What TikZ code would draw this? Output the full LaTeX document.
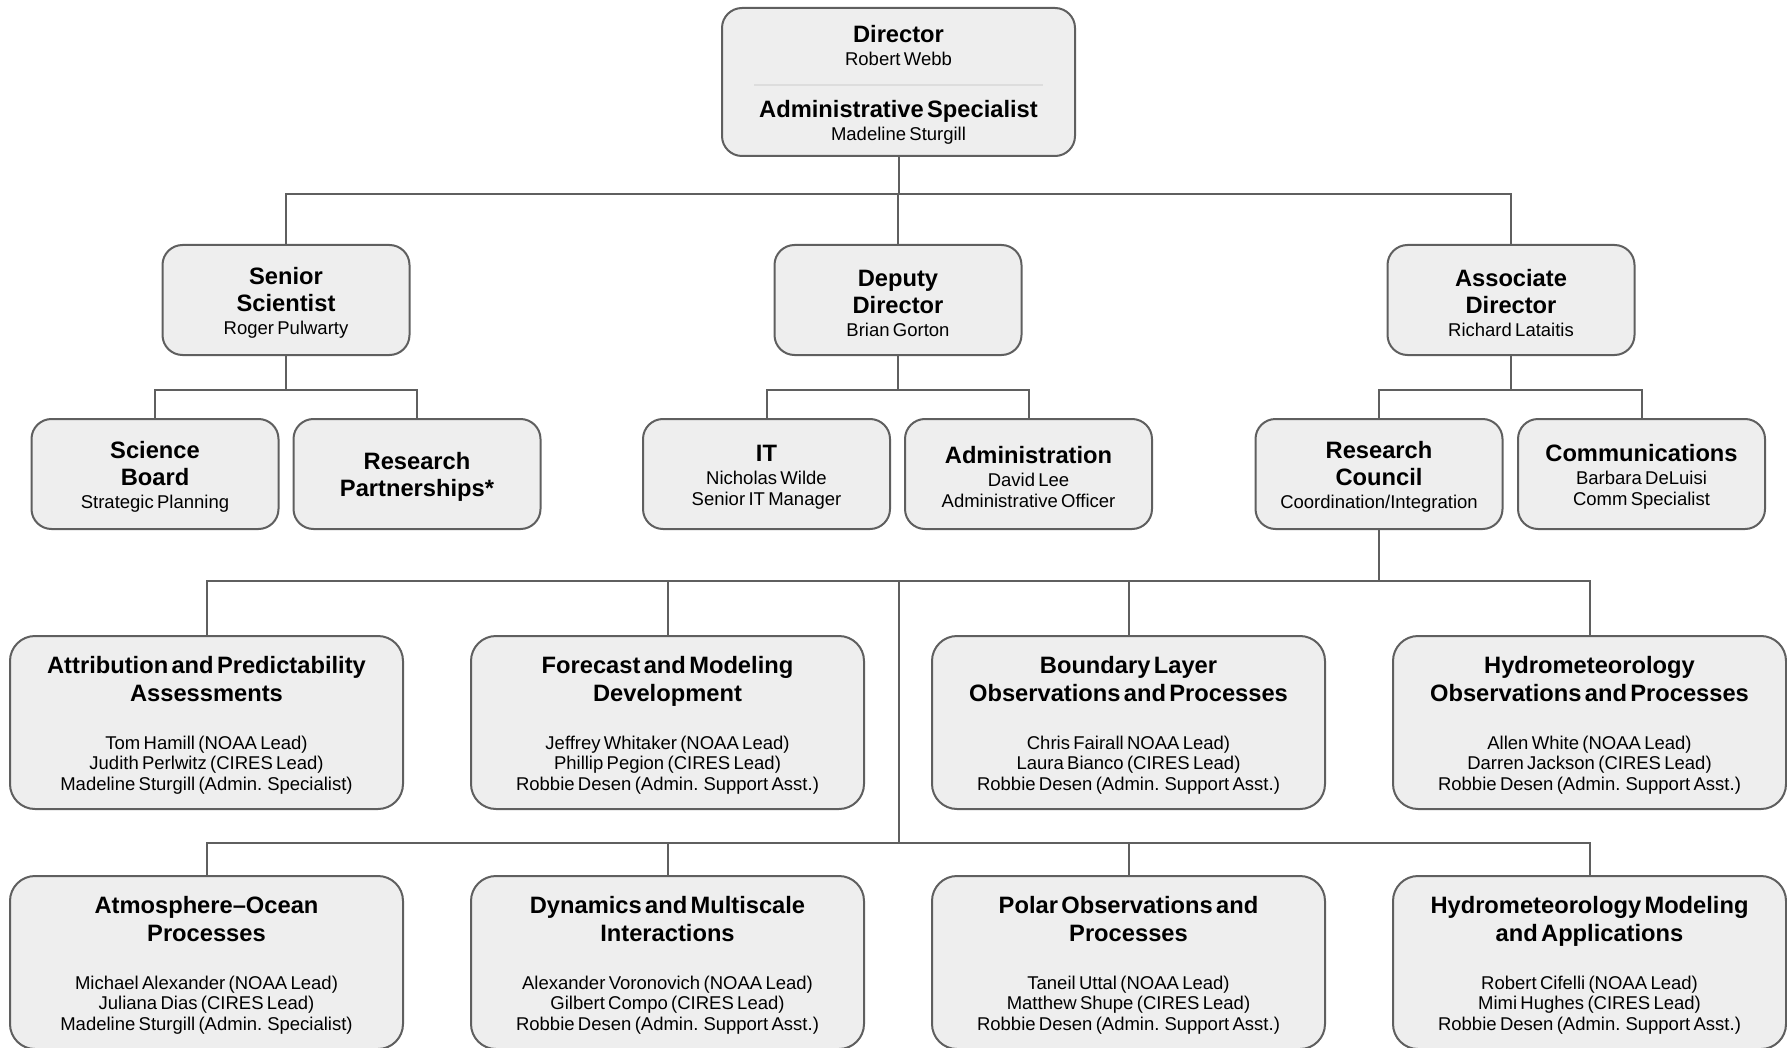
\documentclass[tikz,border=0pt]{standalone}
\usepackage{fontspec}
\setmainfont{Liberation Sans}
\usepackage{tikz}
\definecolor{boxfill}{HTML}{EEEEEE}
\definecolor{boxline}{HTML}{5F5F5F}
\definecolor{rulegray}{HTML}{DDDDDD}
\setlength{\parindent}{0pt}
\newcommand\hd[1]{{\centering\fontsize{23.7pt}{27.3pt}\bfseries\rule{0pt}{23pt}#1\par}}
\newcommand\nm[2][2.5pt]{\vspace*{#1}{\centering\fontsize{18.5pt}{20.7pt}\selectfont #2\par}}
\tikzstyle{unit}=[draw=boxline,fill=boxfill,line width=2pt,rounded corners=20pt,inner sep=0pt]
\tikzstyle{office}=[unit,minimum width=247pt,minimum height=110pt,text width=240pt]
\tikzstyle{group}=[unit,rounded corners=25pt,minimum width=393pt,minimum height=173pt,text width=385pt]
\tikzstyle{link}=[draw=boxline,line width=2pt]

\begin{document}
\begin{tikzpicture}[x=1pt,y=-1pt]
  \useasboundingbox (0,0) rectangle (1787,1048);
  % director
  \node[unit,minimum width=353pt,minimum height=148pt,text width=345pt] (dir) at (898.5,82)
    {\hd{Director}\nm{Robert Webb}\vspace{24pt}{\centering\fontsize{23.7pt}{27.3pt}\bfseries Administrative Specialist\par}\nm{Madeline Sturgill}};
  \draw[rulegray,line width=1.5pt] ([xshift=33pt,yshift=-3pt]dir.west) -- ([xshift=-33pt,yshift=-3pt]dir.east);
  % second level
  \node[office] (sen) at (286,300) {\hd{Senior\\Scientist}\nm{Roger Pulwarty}};
  \node[office] (dep) at (898,300) {\hd{Deputy\\Director}\nm{Brian Gorton}};
  \node[office] (asc) at (1511,300) {\hd{Associate\\Director}\nm{Richard Lataitis}};
  % third level
  \node[office] (sb) at (155,474) {\hd{Science\\Board}\nm{Strategic Planning}};
  \node[office] (rp) at (417,474) {\hd{Research\\Partnerships*}};
  \node[office] (it) at (766.5,474) {\hd{IT}\nm{Nicholas Wilde\\Senior IT Manager}};
  \node[office] (adm) at (1028.5,474) {\hd{Administration}\nm{David Lee\\Administrative Officer}};
  \node[office] (rc) at (1379,474) {\hd{Research\\Council}\nm{Coordination/Integration}};
  \node[office] (com) at (1641.5,474) {\hd{Communications}\nm{Barbara DeLuisi\\Comm Specialist}};
  % research groups
  \foreach \name/\x/\y/\title/\staff in {
      apa/206.5/722.5/{Attribution and Predictability\\Assessments}/{Tom Hamill (NOAA Lead)\\Judith Perlwitz (CIRES Lead)\\Madeline Sturgill (Admin. Specialist)},
      fmd/667.5/722.5/{Forecast and Modeling\\Development}/{Jeffrey Whitaker (NOAA Lead)\\Phillip Pegion (CIRES Lead)\\Robbie Desen (Admin. Support Asst.)},
      blo/1128.5/722.5/{Boundary Layer\\Observations and Processes}/{Chris Fairall NOAA Lead)\\Laura Bianco (CIRES Lead)\\Robbie Desen (Admin. Support Asst.)},
      hyo/1589.5/722.5/{Hydrometeorology\\Observations and Processes}/{Allen White (NOAA Lead)\\Darren Jackson (CIRES Lead)\\Robbie Desen (Admin. Support Asst.)},
      aop/206.5/962.5/{Atmosphere--Ocean\\Processes}/{Michael Alexander (NOAA Lead)\\Juliana Dias (CIRES Lead)\\Madeline Sturgill (Admin. Specialist)},
      dmi/667.5/962.5/{Dynamics and Multiscale\\Interactions}/{Alexander Voronovich (NOAA Lead)\\Gilbert Compo (CIRES Lead)\\Robbie Desen (Admin. Support Asst.)},
      pop/1128.5/962.5/{Polar Observations and\\Processes}/{Taneil Uttal (NOAA Lead)\\Matthew Shupe (CIRES Lead)\\Robbie Desen (Admin. Support Asst.)},
      hma/1589.5/962.5/{Hydrometeorology Modeling\\and Applications}/{Robert Cifelli (NOAA Lead)\\Mimi Hughes (CIRES Lead)\\Robbie Desen (Admin. Support Asst.)}}
    \node[group] (\name) at (\x,\y) {\hd{\title}\nm[27.3pt]{\staff}};
  % connectors
  \foreach \to in {sen,dep,asc}
    \draw[link] (dir.south) -- ++(0,37) -| (\to.north);
  \foreach \from/\to in {sen/sb,sen/rp,dep/it,dep/adm,asc/rc,asc/com}
    \draw[link] (\from.south) -- ++(0,34) -| (\to.north);
  \foreach \to in {apa,fmd,blo,hyo}
    \draw[link] (rc.south) -- ++(0,51) -| (\to.north);
  \coordinate (hub) at (898.5,581);
  \foreach \to in {aop,dmi,pop,hma}
    \draw[link] (hub) -- ++(0,262) -| (\to.north);
\end{tikzpicture}
\end{document}
